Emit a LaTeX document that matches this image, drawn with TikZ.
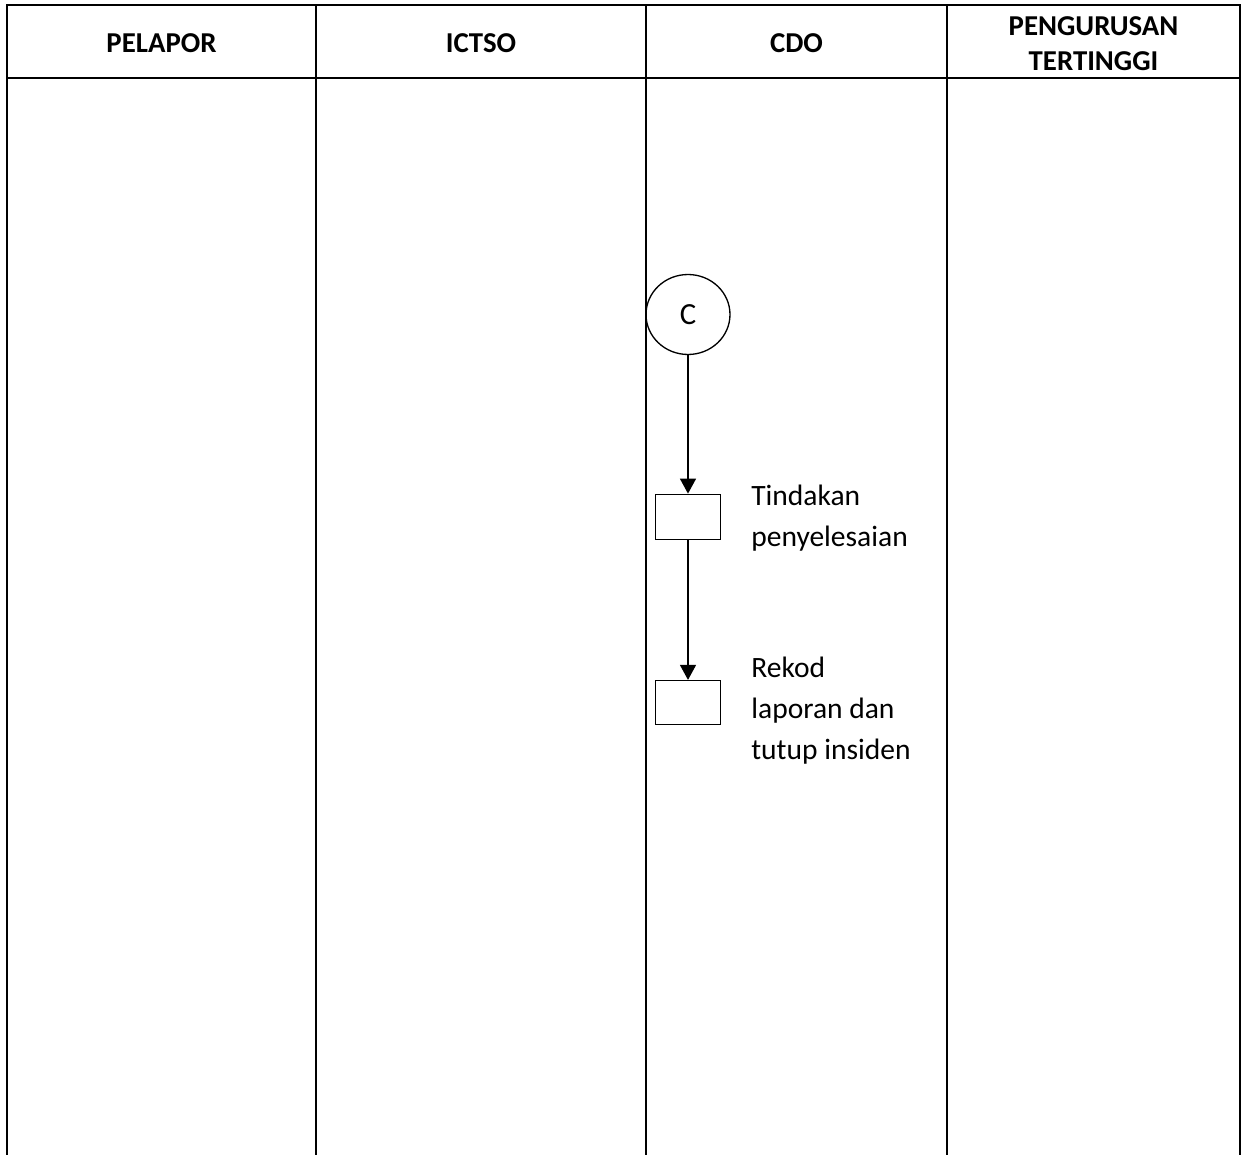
\documentclass[tikz,border=0pt]{standalone}
\usepackage{fontspec}
\setmainfont{Carlito}
\usetikzlibrary{positioning, shapes.geometric, arrows.meta}
\tikzset{
    lane/.style={
        line width=1.4pt,
        color=black
    },
    head/.style={
        font=\fontsize{16.4}{19.8}\selectfont\bfseries,
        align=center
    },
    connector/.style={
        ellipse,
        draw,
        line width=0.75pt,
        minimum width=1.68cm,
        minimum height=1.6cm,
        inner sep=0pt,
        font=\fontsize{17.5}{20}\selectfont
    },
    process/.style={
        rectangle,
        draw,
        line width=0.75pt,
        minimum width=1.3cm,
        minimum height=0.9cm,
        inner sep=0pt
    },
    flow/.style={
        -{Triangle[length=0.3cm, width=0.32cm]},
        line width=0.75pt
    },
    note/.style={
        font=\fontsize{16.8}{23.2}\selectfont,
        align=left,
        anchor=north west,
        inner sep=0pt
    }
}
\begin{document}
\begin{tikzpicture}[x=0.02cm, y=-0.02cm]
    \useasboundingbox (0,0) rectangle (1244,1155);

    % Lanes
    \draw[lane] (7,1155) -- (7,5) -- (1240,5) -- (1240,1155);
    \draw[lane] (7,78) -- (1240,78);
    \draw[lane] (316,5) -- (316,1155);
    \draw[lane] (646,5) -- (646,1155);
    \draw[lane] (947,5) -- (947,1155);

    % Headers
    \node[head] (hPelapor) at (161.5,43) {PELAPOR};
    \node[head] (hIctso) at (481,43) {ICTSO};
    \node[head] (hCdo) at (796.5,43) {CDO};
    \node[head] (hPengurusan) at (1093.5,43.5) {PENGURUSAN\\TERTINGGI};

    % Flow in CDO lane
    \node[connector] (conC) at (688,314.5) {C};
    \node[process, below=2.77cm of conC] (tindakan) {};
    \node[process, below=2.8cm of tindakan, minimum height=0.88cm] (rekod) {};

    \draw[flow] (conC) -- (tindakan);
    \draw[flow] (tindakan) -- (rekod);

    % Notes
    \node[note] (tindakanText) at (751,485) {Tindakan\\penyelesaian};
    \node[note] (rekodText) at (751,657) {Rekod\\laporan dan\\tutup insiden};

\end{tikzpicture}
\end{document}
